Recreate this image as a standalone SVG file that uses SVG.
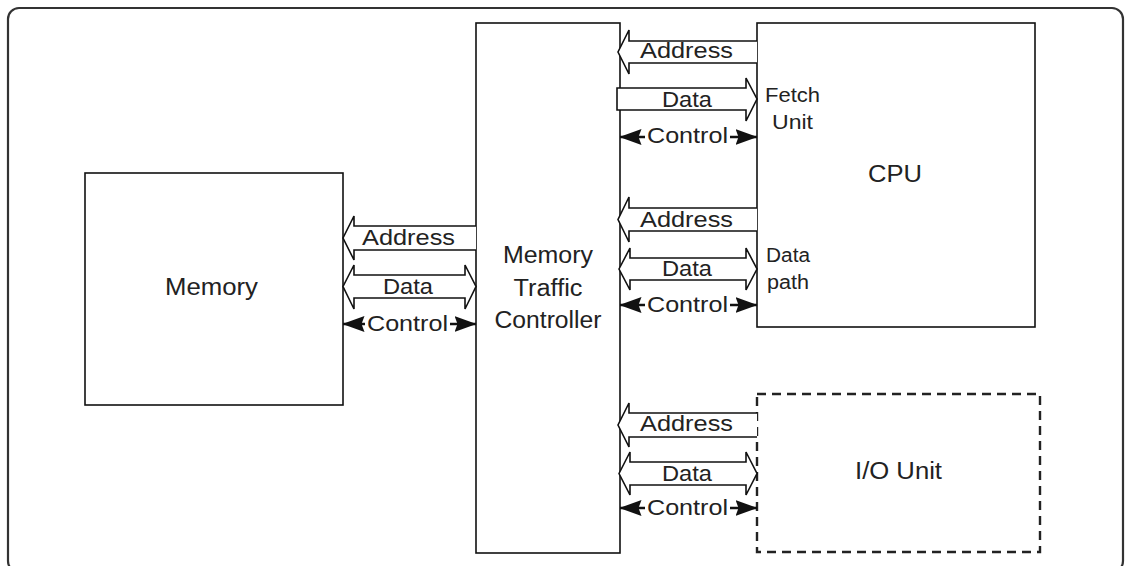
<svg xmlns="http://www.w3.org/2000/svg" width="1125" height="566" viewBox="0 0 1125 566">
<style>
.box{fill:#fff;stroke:#111;stroke-width:1.6}
.dash{fill:#fff;stroke:#222;stroke-width:2.4;stroke-dasharray:9 6}
.frame{fill:#fff;stroke:#333;stroke-width:2.2}
.bus{fill:#fff;stroke:#111;stroke-width:1.6;stroke-linejoin:miter}
.ctl{stroke:#111;stroke-width:2.6;fill:none;marker-start:url(#ah);marker-end:url(#ah)}
.t{font-family:"Liberation Sans",Arial,sans-serif;fill:#222;text-anchor:middle}
.lbl{font-size:22px}
.big{font-size:23.5px}
.sm{font-size:20px}
.bg{fill:#fff}
</style>
<defs>
<marker id="ah" viewBox="0 0 22 18" refX="21.5" refY="9" markerWidth="22" markerHeight="18" markerUnits="userSpaceOnUse" orient="auto-start-reverse">
<path d="M0,1 L22,9 L0,17 L3,9 Z" fill="#111"/>
</marker>
</defs>
<rect class="frame" x="8" y="8" width="1115" height="564" rx="11"/>
<g id="memory">
<rect class="box" x="85" y="173" width="258" height="232"/>
<text class="t big" x="211.5" y="295" textLength="93" lengthAdjust="spacingAndGlyphs">Memory</text>
</g>
<g id="mtc">
<rect class="box" x="476" y="23" width="144" height="530"/>
<text class="t big" x="548" y="263" textLength="90" lengthAdjust="spacingAndGlyphs">Memory</text>
<text class="t big" x="548" y="296" textLength="69" lengthAdjust="spacingAndGlyphs">Traffic</text>
<text class="t big" x="548" y="328" textLength="107" lengthAdjust="spacingAndGlyphs">Controller</text>
</g>
<g id="cpu">
<rect class="box" x="757" y="23" width="278" height="304"/>
<text class="t big" x="895" y="182" textLength="54" lengthAdjust="spacingAndGlyphs">CPU</text>
<text class="t sm" x="792.5" y="102" textLength="55" lengthAdjust="spacingAndGlyphs">Fetch</text>
<text class="t sm" x="792.5" y="129" textLength="41" lengthAdjust="spacingAndGlyphs">Unit</text>
<text class="t sm" x="788" y="262" textLength="44" lengthAdjust="spacingAndGlyphs">Data</text>
<text class="t sm" x="788" y="289" textLength="42" lengthAdjust="spacingAndGlyphs">path</text>
</g>
<g id="io">
<rect class="dash" x="757" y="394" width="283" height="158"/>
<text class="t big" x="898.5" y="479" textLength="87" lengthAdjust="spacingAndGlyphs">I/O Unit</text>
</g>
<g id="connectors">
<path class="bus" d="M757,41 L629,41 L629,30 L618,52 L629,74 L629,63 L757,63"/>
<text class="t lbl" x="686.5" y="58" textLength="93" lengthAdjust="spacingAndGlyphs">Address</text>
<path class="bus" d="M617,88 L746,88 L746,78 L757,99 L746,121 L746,110 L617,110 Z"/>
<text class="t lbl" x="687" y="107" textLength="50" lengthAdjust="spacingAndGlyphs">Data</text>
<line class="ctl" x1="620" y1="137" x2="757" y2="137"/>
<rect class="bg" x="645" y="126" width="85" height="20"/>
<text class="t lbl" x="687.5" y="143" textLength="81" lengthAdjust="spacingAndGlyphs">Control</text>
<path class="bus" d="M757,208 L629,208 L629,197 L618,219.5 L629,242 L629,231 L757,231"/>
<text class="t lbl" x="686.5" y="227" textLength="93" lengthAdjust="spacingAndGlyphs">Address</text>
<path class="bus" d="M619,269 L630,248 L630,258 L746,258 L746,248 L757,269 L746,290 L746,280 L630,280 L630,290 Z"/>
<text class="t lbl" x="687" y="276" textLength="50" lengthAdjust="spacingAndGlyphs">Data</text>
<line class="ctl" x1="620" y1="305" x2="757" y2="305"/>
<rect class="bg" x="645" y="294" width="85" height="20"/>
<text class="t lbl" x="687.5" y="312" textLength="81" lengthAdjust="spacingAndGlyphs">Control</text>
<path class="bus" d="M476,226 L354,226 L354,216 L343,238 L354,260 L354,250 L476,250"/>
<text class="t lbl" x="408.5" y="245" textLength="93" lengthAdjust="spacingAndGlyphs">Address</text>
<path class="bus" d="M343,286.5 L354,265 L354,275 L465,275 L465,265 L476,286.5 L465,309 L465,298 L354,298 L354,309 Z"/>
<text class="t lbl" x="408" y="294" textLength="50" lengthAdjust="spacingAndGlyphs">Data</text>
<line class="ctl" x1="343" y1="324" x2="476" y2="324"/>
<rect class="bg" x="365" y="313" width="85" height="20"/>
<text class="t lbl" x="407.5" y="331" textLength="81" lengthAdjust="spacingAndGlyphs">Control</text>
<path class="bus" d="M757,413 L629,413 L629,403 L618,425 L629,447 L629,437 L757,437"/>
<text class="t lbl" x="686.5" y="431" textLength="93" lengthAdjust="spacingAndGlyphs">Address</text>
<path class="bus" d="M619,473.5 L630,452 L630,462 L746,462 L746,452 L757,473.5 L746,495 L746,485 L630,485 L630,495 Z"/>
<text class="t lbl" x="687" y="481" textLength="50" lengthAdjust="spacingAndGlyphs">Data</text>
<line class="ctl" x1="620" y1="508" x2="757" y2="508"/>
<rect class="bg" x="645" y="497" width="85" height="20"/>
<text class="t lbl" x="687.5" y="515" textLength="81" lengthAdjust="spacingAndGlyphs">Control</text>
</g>
</svg>
